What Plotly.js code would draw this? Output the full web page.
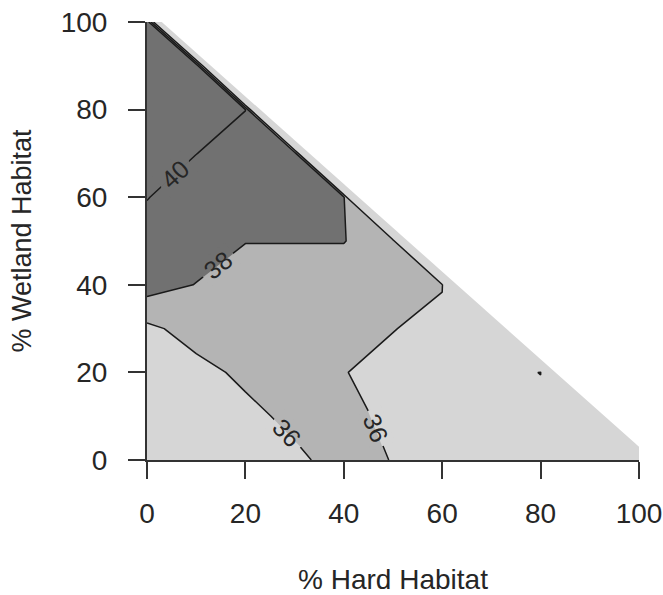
<!DOCTYPE html>
<html>
<head>
<meta charset="utf-8">
<script src="https://cdn.plot.ly/plotly-3.0.1.min.js"></script>
<style>
  html, body { margin: 0; padding: 0; background: #ffffff; }
  #chart { width: 663px; height: 595px; }
</style>
</head>
<body>
<div id="chart"></div>
<script>
// Habitat composition grid (percent of each habitat type)
const hardPct = [0, 10, 20, 30, 40, 50, 60, 70, 80, 90, 100];
const wetlandPct = [0, 10, 20, 30, 40, 50, 60, 70, 80, 90, 100];

// Response surface, one row per wetland level; null where hard + wetland > 100
const response = [
  [35.0, 35.2, 35.4, 35.62, 36.74, 35.93, 35.3, 34.9, 34.6, 34.3, 34.0],
  [35.0, 35.2, 35.5, 36.46, 36.8, 35.35, 35.0, 34.7, 34.4, 34.0, null],
  [35.1, 35.4, 36.4, 37.0, 36.1, 35.0, 34.6, 34.3, 36.1, null, null],
  [35.57, 36.8, 37.2, 37.3, 37.0, 36.1, 35.0, 33.8, null, null, null],
  [38.9, 37.94, 37.2, 37.2, 37.2, 37.0, 36.2, null, null, null, null],
  [39.4, 39.0, 38.05, 38.05, 38.05, 37.0, null, null, null, null, null],
  [40.05, 39.2, 39.0, 38.8, 38.3, null, null, null, null, null, null],
  [41.0, 40.02, 39.3, 39.0, null, null, null, null, null, null, null],
  [41.3, 41.0, 40.02, null, null, null, null, null, null, null, null],
  [41.5, 41.5, null, null, null, null, null, null, null, null, null],
  [41.5, null, null, null, null, null, null, null, null, null, null]
];

// Contour levels drawn and labelled
const levelStart = 36;
const levelEnd = 40;
const levelStep = 2;

// Outside the feasible triangle the surface drops away, then is masked
const outsideFloor = 0;
const feasibleEdge = 103;

const lightGrey = '#d6d6d6';
const midGrey = '#b4b4b4';
const darkGrey = '#717171';
const inkColor = '#262626';
const fontFamily = '"Liberation Sans", Arial, Helvetica, sans-serif';

const zGrid = response.map(row => row.map(v => (v === null ? outsideFloor : v)));

const surface = {
  type: 'contour',
  x: hardPct,
  y: wetlandPct,
  z: zGrid,
  autocontour: false,
  contours: {
    start: levelStart,
    end: levelEnd,
    size: levelStep,
    coloring: 'fill',
    showlines: true,
    showlabels: false
  },
  zmin: levelStart - levelStep / 2,
  zmax: levelEnd + levelStep / 2,
  colorscale: [
    [0, lightGrey], [0.2, lightGrey],
    [0.2, midGrey], [0.5, midGrey],
    [0.5, darkGrey], [1, darkGrey]
  ],
  line: { color: '#1a1a1a', width: 1.5, smoothing: 0 },
  showscale: false,
  hoverinfo: 'skip'
};

// White cover for the infeasible corner (hard + wetland beyond the edge)
const far = 130;
const cover = {
  type: 'scatter',
  mode: 'lines',
  x: [0, feasibleEdge, far, far, 0, 0],
  y: [feasibleEdge, 0, 0, far, far, feasibleEdge],
  fill: 'toself',
  fillcolor: '#ffffff',
  line: { width: 0, color: '#ffffff' },
  hoverinfo: 'skip',
  showlegend: false
};

// Contour labels: each sits in a gap of its line; the gap is painted with
// the band colour found on either side of the line.
const contourLabels = [
  { level: 40, x: 5.7, y: 65.3, angle: -43, below: darkGrey, above: darkGrey },
  { level: 38, x: 14.4, y: 44.5, angle: -38, below: midGrey, above: darkGrey },
  { level: 36, x: 28.5, y: 6.2, angle: 46, below: lightGrey, above: midGrey },
  { level: 36, x: 46.5, y: 7.3, angle: 68, below: midGrey, above: lightGrey }
];

const gapLength = 38;
const gapHeight = 26;
const labelSize = 25;

const annotations = [];
contourLabels.forEach(lab => {
  const t = lab.angle * Math.PI / 180;
  const d = gapHeight / 4;
  // unit normal in screen space (y grows downward)
  const nx = -Math.sin(t);
  const ny = Math.cos(t);
  [[1, lab.below], [-1, lab.above]].forEach(([s, col]) => {
    annotations.push({
      x: lab.x, y: lab.y, xref: 'x', yref: 'y',
      text: '\u00a0', showarrow: false,
      width: gapLength, height: gapHeight / 2 + 1,
      bgcolor: col, borderpad: 0, borderwidth: 0,
      textangle: lab.angle,
      font: { size: 2 },
      xanchor: 'center', yanchor: 'middle',
      xshift: s * d * nx, yshift: -s * d * ny
    });
  });
});
contourLabels.forEach(lab => {
  annotations.push({
    x: lab.x, y: lab.y, xref: 'x', yref: 'y',
    text: String(lab.level), showarrow: false,
    textangle: lab.angle,
    font: { family: fontFamily, size: labelSize, color: inkColor },
    xanchor: 'center', yanchor: 'middle'
  });
});

const axisCommon = {
  range: [0, 100],
  tickvals: [0, 20, 40, 60, 80, 100],
  ticks: 'outside',
  ticklen: 17,
  tickwidth: 2,
  tickcolor: '#333333',
  showline: true,
  linewidth: 2,
  linecolor: '#333333',
  showgrid: false,
  zeroline: false,
  automargin: false,
  tickfont: { family: fontFamily, size: 28, color: inkColor },
  fixedrange: true
};

const layout = {
  width: 663,
  height: 595,
  margin: { l: 147, r: 24, t: 22, b: 135 },
  paper_bgcolor: '#ffffff',
  plot_bgcolor: '#ffffff',
  showlegend: false,
  annotations: annotations,
  xaxis: Object.assign({}, axisCommon, {
    ticklabelstandoff: 10,
    title: { text: '% Hard Habitat', font: { family: fontFamily, size: 28, color: inkColor }, standoff: 52 }
  }),
  yaxis: Object.assign({}, axisCommon, {
    ticklabelstandoff: 15,
    title: { text: '% Wetland Habitat', font: { family: fontFamily, size: 27, color: inkColor }, standoff: 21 }
  })
};

Plotly.newPlot('chart', [surface, cover], layout, { displayModeBar: false, staticPlot: true });
</script>
</body>
</html>
